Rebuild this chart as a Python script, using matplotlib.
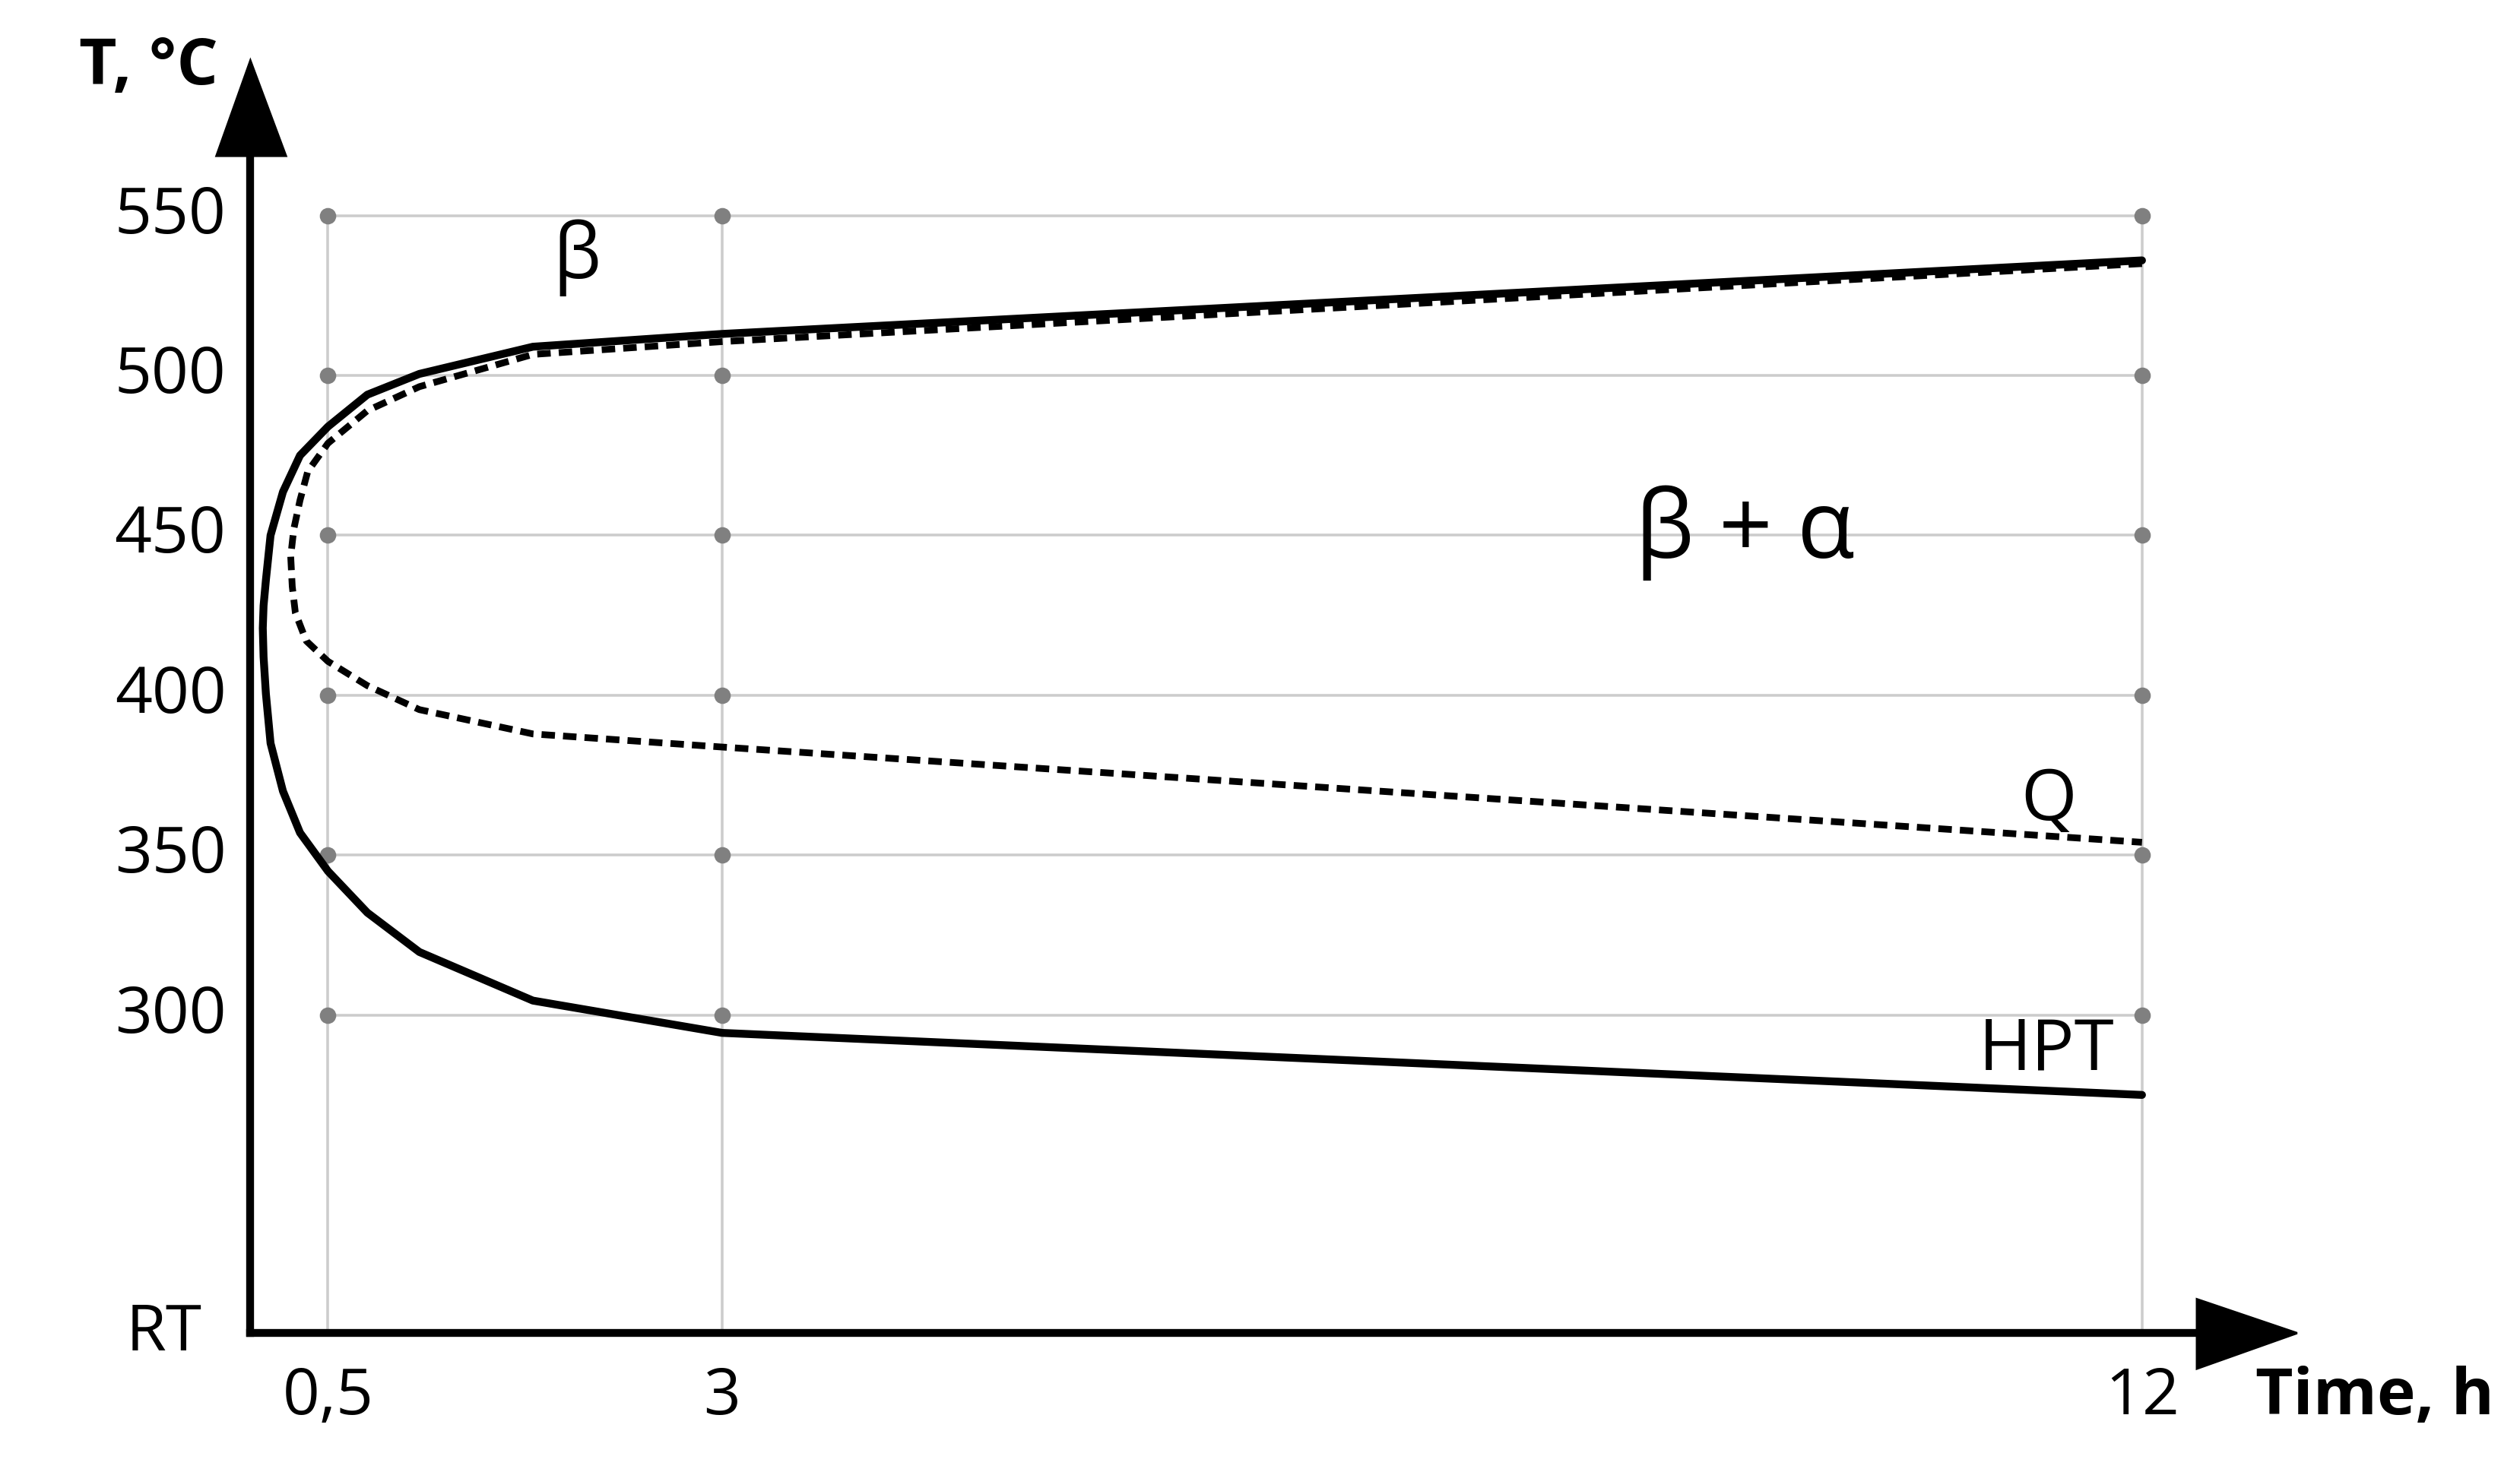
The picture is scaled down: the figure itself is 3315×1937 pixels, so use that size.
import numpy as np
import matplotlib.pyplot as plt
from matplotlib.patches import Polygon

plt.rcParams['font.family'] = ['Open Sans', 'DejaVu Sans']

# time ticks (h) and their positions along the drawn (non-linear) time axis
time_ticks = [0.0, 0.5, 3, 12]
time_pos = [155, 203, 447, 1326]
temp_ticks = [300, 350, 400, 450, 500, 550]
rt_temp = 200.5

# HPT curve (solid): time (h), temperature (C)
hpt_t = [12, 3, 1.8, 1.08, 0.75, 0.5, 0.32, 0.21, 0.13, 0.10, 0.085, 0.08, 0.085, 0.10, 0.13, 0.21, 0.32, 0.5, 0.75, 1.08, 1.8, 3, 12]
hpt_T = [536, 513, 509, 500.5, 494, 484, 475, 463.6, 450, 436, 428, 421, 412, 400.5, 385, 370, 357, 345, 332, 319.7, 304.5, 294.4, 275]

# Q curve (dashed)
q_t = [12, 3, 1.8, 1.08, 0.75, 0.5, 0.37, 0.32, 0.28, 0.26, 0.27, 0.29, 0.36, 0.5, 0.75, 1.08, 1.8, 3, 12]
q_T = [535, 510.6, 506.6, 496.5, 489, 478.8, 470, 461, 452, 443.4, 434, 425.8, 417, 410.6, 403, 395.5, 387.9, 383.8, 354]


def tpos(t):
    return np.interp(t, time_ticks, time_pos)


fig = plt.figure(figsize=(15.6, 9.12), dpi=212.5)
x0, x1, ypix0, ypix1 = 155, 1420, 826, 40
ax = fig.add_axes([x0/1560, (912-ypix0)/912, (x1-x0)/1560, (ypix0-ypix1)/912])
ax.set_xlim(x0, x1)
ax.set_ylim(rt_temp, 550 + (134-40)/1.98)
ax.axis('off')

# grid
for t in time_ticks[1:]:
    ax.plot([tpos(t)]*2, [rt_temp, 550], color='#cccccc', lw=1.2, zorder=1)
for T in temp_ticks:
    ax.plot([tpos(0.5), tpos(12)], [T, T], color='#cccccc', lw=1.2, zorder=1)
gx, gy = np.meshgrid([tpos(t) for t in time_ticks[1:]], temp_ticks)
ax.scatter(gx.ravel(), gy.ravel(), s=40, color='#808080', zorder=2)

# curves
ax.plot(tpos(hpt_t), hpt_T, color='black', lw=3.5, zorder=3, solid_capstyle='round')
ax.plot(tpos(q_t), q_T, color='black', lw=3, ls=(0, (2, 1.2)), zorder=3)

# axes with arrows
ax.plot([x0, 1370], [rt_temp, rt_temp], color='black', lw=3.5, clip_on=False)
ax.plot([x0, x0], [rt_temp, 575], color='black', lw=3.5, clip_on=False)
tr = ax.transData.inverted()
def px(x, y):
    return tr.transform(fig.transFigure.transform((x/1560, (912-y)/912)))
ax.add_patch(Polygon([px(1360, 805), px(1360, 848), px(1422, 826)], closed=True,
                     color='black', clip_on=False))
ax.add_patch(Polygon([px(134, 97), px(177, 97), px(155, 38)], closed=True,
                     color='black', clip_on=False))

# tick labels
for T in temp_ticks:
    ax.text(tpos(0) - 15, T, str(T), ha='right', va='center', fontsize=29)
ax.text(tpos(0) - 30, rt_temp, 'RT', ha='right', va='center', fontsize=29)
for t, lab in zip(time_ticks[1:], ['0,5', '3', '12']):
    ax.text(tpos(t), rt_temp - 10, lab, ha='center', va='top', fontsize=29)
ax.text(1470, rt_temp - 10, 'Time, h', ha='center', va='top', fontsize=29, fontweight='bold')
ax.text(92/1560, (912-42)/912, 'T, °C', transform=fig.transFigure, ha='center', va='center',
        fontsize=29, fontweight='bold')

# region / curve labels
ax.text(357, 537, 'β', ha='center', va='center', fontsize=34)
ax.text(1080, 451, 'β + α', ha='center', va='center', fontsize=42)
ax.text(1268, 367, 'Q', ha='center', va='center', fontsize=32)
ax.text(1267, 289, 'HPT', ha='center', va='center', fontsize=32)

fig.savefig('out.png', dpi=212.5)
